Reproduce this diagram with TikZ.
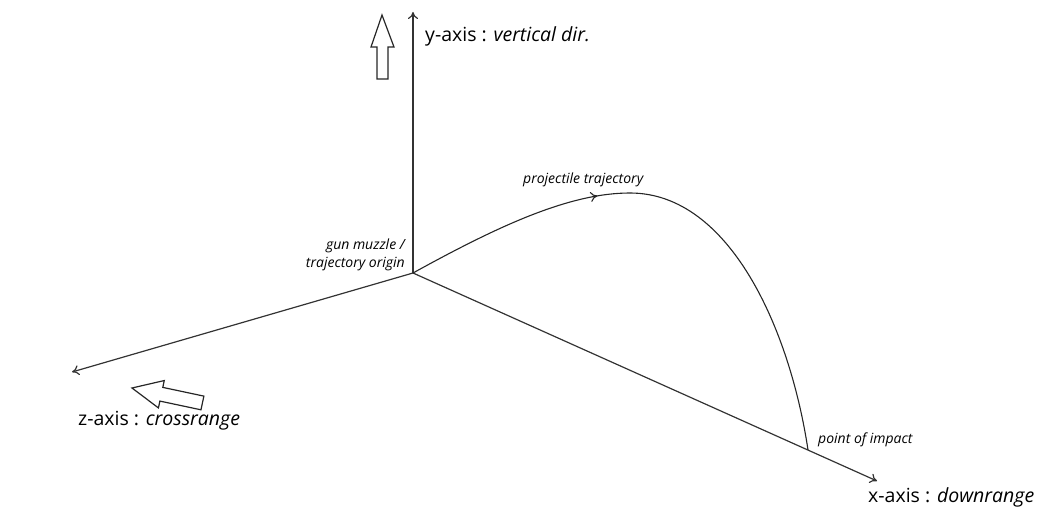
\documentclass[tikz,border=0pt]{standalone}
\usepackage{fontspec}
\setmainfont{Open Sans}
\usetikzlibrary{arrows.meta,decorations.markings}
\begin{document}
\begin{tikzpicture}[x=1pt,y=-1pt,
  axis/.style={draw=black!80,line width=1.2pt,-{To[length=7pt,width=10pt]}},
  traj/.style={draw=black!85,line width=1.1pt},
  hollow/.style={draw=black!85,line width=1.2pt,fill=white,line join=miter},
  biglabel/.style={font=\fontsize{19.5}{22}\selectfont,inner sep=0pt},
  smalllabel/.style={font=\fontsize{14}{18}\selectfont\itshape,inner sep=0pt}]
\useasboundingbox (0,0) rectangle (1044,510);
\coordinate (O) at (413,273);
\coordinate (Y) at (413,12);
\coordinate (Z) at (72,372);
\coordinate (X) at (877,481);
\coordinate (T) at (630,193);
\coordinate (P) at (808,450);
\draw[axis] (O) -- (Y);
\draw[axis] (O) -- (Z);
\draw[axis] (O) -- (X);
\draw[traj,postaction={decorate},decoration={markings,mark=at position 0.86 with {\arrow{To[length=7pt,width=10pt]}}}]
  (O) .. controls (500,225) and (570,193) .. (T);
\draw[traj] (T) .. controls (730,193) and (790,330) .. (P);
% hollow arrows
\draw[hollow] (382,15) -- (394,47) -- (388,47) -- (388,79) -- (377,79) -- (377,47) -- (371,47) -- cycle;
\begin{scope}[shift={(132,388)},rotate=-12]
\draw[hollow] (0,0) -- (30,-14) -- (30,-7) -- (72,-7) -- (72,7) -- (30,7) -- (30,14) -- cycle;
\end{scope}
\begin{scope}[shift={(852,512)},rotate=206]
\draw[hollow] (0,0) -- (32,-16) -- (32,-7) -- (85,-7) -- (85,7) -- (32,7) -- (32,16) -- cycle;
\end{scope}
% labels
\node[biglabel,anchor=west] (ylab) at (425,36) {y-axis : \textit{vertical dir.}};
\node[biglabel,anchor=west] (zlab) at (78,421) {z-axis : \textit{crossrange}};
\node[biglabel,anchor=west] (xlab) at (868,497) {x-axis : \textit{downrange}};
\node[smalllabel,anchor=west] (tlab) at (523,180) {projectile trajectory};
\node[smalllabel,anchor=south east,align=right] (glab) at (405,271) {gun muzzle /\\trajectory origin};
\node[smalllabel,anchor=west] (plab) at (818,440) {point of impact};
\end{tikzpicture}
\end{document}
